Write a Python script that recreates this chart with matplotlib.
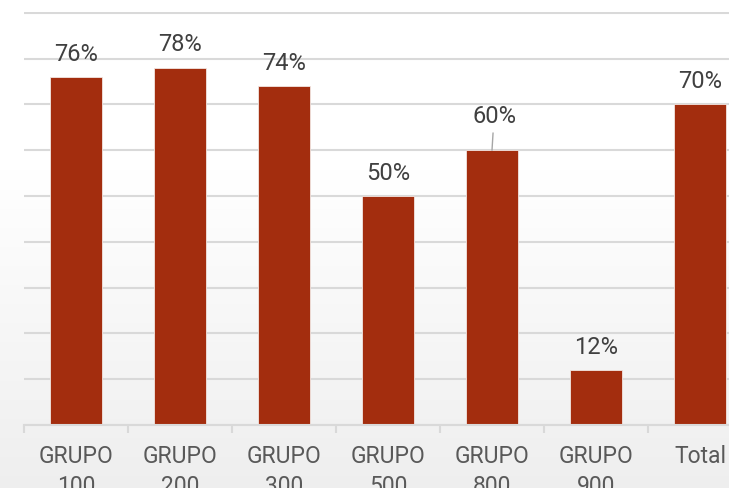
import matplotlib
matplotlib.use("Agg")
import matplotlib.pyplot as plt
import numpy as np

categories = ["GRUPO\n100", "GRUPO\n200", "GRUPO\n300", "GRUPO\n500", "GRUPO\n800", "GRUPO\n900", "Total"]
values = [0.76, 0.78, 0.74, 0.50, 0.60, 0.12, 0.70]
labels = ["76%", "78%", "74%", "50%", "60%", "12%", "70%"]

plt.rcParams['font.family'] = ['Roboto', 'DejaVu Sans']

W, H = 729, 489
fig = plt.figure(figsize=(W / 100, H / 100), dpi=100)

# background gradient
bg = fig.add_axes([0, 0, 1, 1], zorder=-10)
grad = np.linspace(0, 1, 256)
grad = np.clip((grad - 0.35) / 0.65, 0, 1)
col = 1.0 - 0.065 * grad
img = np.dstack([col, col, col])[:, None, :].reshape(256, 1, 3)
bg.imshow(img, aspect='auto', extent=[0, 1, 1, 0], interpolation='bilinear')
bg.set_axis_off()

left = 24 / W
bottom = 63 / H
ax = fig.add_axes([left, bottom, 728 / W, 413 / H])
ax.patch.set_alpha(0)

x = np.arange(len(categories))
bar_color = '#A32D0E'
ax.bar(x, values, width=0.5, color=bar_color, edgecolor='#f2e6e2', linewidth=0.6, zorder=3)

ax.set_xlim(-0.5, len(categories) - 0.5)
ax.set_ylim(0, 0.902)
ax.set_yticks(np.arange(0, 0.91, 0.1))
ax.yaxis.grid(True, color='#d9d9d9', linewidth=1.5, zorder=0)
ax.tick_params(axis='y', length=0, labelleft=False)

for s in ['top', 'right', 'left']:
    ax.spines[s].set_visible(False)
ax.spines['bottom'].set_color('#d9d9d9')
ax.spines['bottom'].set_linewidth(1.5)
ax.spines['bottom'].set_zorder(4)

ax.set_xticks(x)
ax.set_xticklabels(categories, fontsize=16.5, color='#595959', linespacing=1.36, va='top')
ax.tick_params(axis='x', which='major', length=0, pad=14)
ax.set_xticks(np.arange(-0.5, len(categories), 1.0), minor=True)
ax.tick_params(axis='x', which='minor', length=6, width=1.5, color='#d9d9d9')

for i, (v, lab) in enumerate(zip(values, labels)):
    if lab == "60%":
        ax.annotate(lab, xy=(i, v), xytext=(i + 0.02, v + 0.05), ha='center', va='bottom',
                    fontsize=17, color='#404040',
                    arrowprops=dict(arrowstyle='-', color='#a6a6a6', lw=1.0, shrinkA=2, shrinkB=0))
    else:
        ax.annotate(lab, xy=(i, v), xytext=(0, 9), textcoords='offset points',
                    ha='center', va='bottom', fontsize=17, color='#404040')

fig.savefig("out.png", dpi=100)
